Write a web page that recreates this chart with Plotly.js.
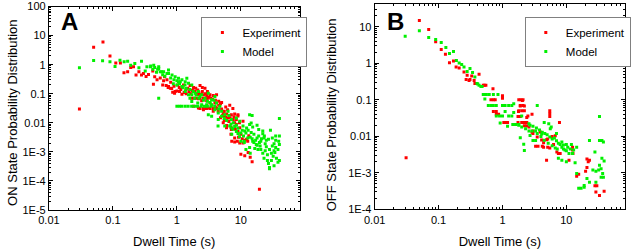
<!DOCTYPE html>
<html>
<head>
<meta charset="utf-8">
<script src="https://cdn.plot.ly/plotly-3.0.1.min.js"></script>
<style>html,body{margin:0;padding:0;background:#fff;}#chart{width:631px;height:249px;}</style>
</head>
<body>
<div id="chart"></div>
<script>
// ---- Data ----
const onExperiment = [[0.03,0.03],[0.05,4.0],[0.07,6.0],[0.09,2.0],[0.111,1.15],[0.131,1.15],[0.149,0.53],[0.17,0.57],[0.19,0.8],[0.21,0.84],[0.23,0.44],[0.255,0.57],[0.28,0.44],[0.3,0.5],[0.33,0.39],[0.36,0.46],[0.42,0.6],[0.43,0.21],[0.45,0.38],[0.49,0.3],[0.6,0.2],[0.64,0.38],[0.68,0.19],[0.7,0.3],[0.73,0.163],[0.74,0.176],[0.79,0.154],[0.83,0.15],[0.86,0.113],[0.92,0.104],[0.94,0.12],[1.0,0.125],[1.03,0.2],[1.09,0.163],[1.2,0.096],[1.27,0.2],[1.38,0.135],[1.48,0.154],[1.61,0.19],[1.82,0.163],[1.97,0.154],[2.12,0.135],[2.3,0.19],[2.5,0.163],[2.75,0.154],[2.17,0.092],[2.39,0.096],[2.6,0.092],[2.92,0.087],[3.29,0.092],[3.7,0.087],[4.17,0.092],[1.7,0.07],[1.85,0.07],[2.0,0.07],[2.3,0.07],[2.6,0.07],[3.0,0.07],[3.4,0.07],[2.17,0.067],[2.44,0.057],[2.92,0.057],[3.29,0.048],[3.93,0.048],[1.82,0.037],[2.17,0.032],[2.3,0.031],[2.6,0.031],[2.9,0.031],[3.3,0.031],[3.7,0.031],[4.2,0.031],[2.6,0.028],[3.1,0.032],[3.7,0.025],[4.43,0.025],[4.5,0.04],[5.0,0.03],[5.5,0.025],[6.0,0.02],[6.7,0.04],[7.5,0.031],[8.0,0.02],[9.0,0.017],[4.8,0.015],[5.5,0.012],[6.5,0.011],[5.3,0.0218],[5.75,0.0155],[6.3,0.0147],[7.1,0.019],[7.6,0.0129],[8.0,0.01],[8.5,0.0087],[9.0,0.019],[9.6,0.0068],[10.8,0.0113],[5.3,0.01],[5.96,0.0068],[7.1,0.0059],[7.0,0.004],[8.0,0.003],[8.8,0.0023],[9.6,0.002],[10.8,0.002],[12.8,0.0023],[7.2,0.0023],[8.0,0.0022],[12.3,0.0027],[13.3,0.0036],[10.0,0.00083],[11.5,0.00073],[13.0,0.00095],[14.0,0.00065],[15.0,0.00046],[19.5,0.000052],
[0.55,0.35],[0.62,0.28],[0.8,0.25],[0.9,0.18],[1.1,0.12],[1.15,0.14],[1.3,0.11],[1.4,0.1],[1.55,0.12],[1.65,0.1],[1.75,0.13],[1.9,0.12],[2.0,0.1],[2.2,0.11],[2.5,0.12],[2.8,0.1],[3.0,0.12],[3.2,0.075],[3.6,0.065],[4.0,0.06],[4.5,0.055],[5.0,0.05],[3.5,0.04],[4.0,0.035],[4.8,0.045],[5.8,0.035],[6.2,0.028],[5.2,0.018],[6.8,0.015],[7.8,0.016],[8.5,0.013],[9.5,0.01],[6.0,0.008],[7.0,0.007],[8.2,0.006],[9.0,0.005],[10.0,0.004],[9.2,0.0032],[10.5,0.0028],[11.5,0.0025]];

const onModel = [[0.03,0.78],[0.05,1.38],[0.069,1.35],[0.09,1.25],[0.108,0.87],[0.129,1.42],[0.15,1.25],[0.17,1.3],[0.19,0.95],[0.22,1.1],[0.255,0.78],[0.28,1.3],[0.32,0.6],[0.34,0.84],[0.386,0.84],[0.39,0.9],[0.42,0.7],[0.435,0.96],[0.45,0.8],[0.48,0.55],[0.5,0.7],[0.52,0.74],[0.52,0.84],[0.55,0.57],[0.58,0.57],[0.62,0.57],[0.7,0.5],[0.74,0.65],[0.74,0.5],[0.84,0.44],[0.94,0.38],[1.06,0.34],[1.06,0.26],[1.13,0.26],[1.2,0.3],[1.34,0.2],[1.35,0.26],[1.43,0.34],[1.52,0.23],[1.71,0.2],[1.2,0.176],[1.35,0.119],[1.52,0.092],[1.71,0.092],[1.93,0.104],[2.17,0.119],[2.44,0.092],[2.75,0.07],[3.1,0.104],[3.49,0.062],[3.93,0.08],[1.6,0.07],[1.9,0.07],[2.2,0.07],[1.71,0.054],[2.12,0.048],[2.44,0.042],[2.92,0.042],[3.49,0.042],[4.17,0.048],[4.7,0.037],[1.0,0.037],[1.1,0.037],[1.2,0.037],[1.35,0.037],[1.5,0.037],[1.7,0.037],[1.9,0.037],[2.1,0.037],[2.4,0.037],[2.7,0.037],[3.0,0.037],[3.4,0.037],[3.9,0.037],[0.52,0.07],[3.93,0.028],[4.43,0.0218],[4.99,0.0168],[5.6,0.019],[6.3,0.025],[7.1,0.0129],[7.6,0.01],[8.5,0.0147],[9.6,0.0113],[10.8,0.0077],[11.5,0.0052],[6.7,0.0077],[5.6,0.0077],[4.43,0.0129],[3.49,0.0168],[3.1,0.019],[4.4,0.0077],[7.2,0.004],[7.2,0.0066],[8.5,0.0083],[9.0,0.0043],[9.5,0.0033],[10.0,0.0023],[12.3,0.0066],[13.7,0.0087],[13.7,0.019],[15.0,0.018],[14.5,0.0099],[15.3,0.0071],[17.9,0.0083],[19.0,0.0059],[22.0,0.0052],[23.3,0.0035],[27.0,0.0027],[31.0,0.003],[40.0,0.0035],[39.0,0.0023],[35.0,0.0014],[34.0,0.00095],[30.0,0.0005],[26.0,0.0005],[28.0,0.00026],[38.0,0.00044],[14.5,0.0046],[12.8,0.003],[11.3,0.0023],[15.3,0.0023],[17.9,0.003],[19.5,0.0021],[17.4,0.0018],[20.5,0.0012],[24.0,0.0011],[33.0,0.0019],[29.0,0.0055],[40.0,0.014],[35.0,0.0035],[11.3,0.0021],[16.0,0.0021],[23.0,0.003],[13.7,0.0014],[18.5,0.0012],[33.0,0.0011],[40.0,0.0005],[28.0,0.00029],[33.0,0.00033],[20.5,0.0023],
[0.6,0.45],[0.65,0.4],[0.8,0.35],[0.9,0.3],[1.0,0.28],[0.88,0.22],[1.0,0.2],[1.1,0.22],[1.25,0.16],[1.4,0.15],[1.6,0.14],[1.8,0.12],[2.0,0.09],[2.3,0.08],[2.6,0.06],[3.0,0.055],[3.3,0.05],[3.8,0.06],[4.5,0.03],[5.0,0.025],[5.5,0.014],[6.0,0.012],[6.5,0.018],[7.0,0.009],[7.5,0.006],[8.0,0.0075],[8.5,0.005],[9.0,0.0065],[10.0,0.0045],[10.5,0.0055],[11.0,0.0035],[12.0,0.0045],[13.0,0.0055],[14.0,0.0032],[15.0,0.0028],[16.0,0.004],[17.0,0.0025],[18.0,0.0017],[20.0,0.0016],[21.0,0.0028],[22.0,0.0009],[24.0,0.0019],[25.0,0.0015],[26.0,0.0008],[28.0,0.0012],[30.0,0.0009],[31.0,0.0016],[32.0,0.0007],[35.0,0.0025],[36.0,0.0006],[38.0,0.0012],[40.0,0.0018],[22.0,0.0042],[25.0,0.0025],[19.0,0.0035],[16.5,0.0013],[12.0,0.0012],[14.0,0.0009],[23.0,0.0006],[27.0,0.0004]];

const offExperiment = [[0.031,0.0026],[0.05,15],[0.07,8.5],[0.09,3.9],[0.11,2.4],[0.128,1.77],[0.148,1.04],[0.171,1.15],[0.188,0.79],[0.21,0.74],[0.25,0.58],[0.27,0.36],[0.28,0.47],[0.31,0.36],[0.33,0.45],[0.36,0.34],[0.43,0.5],[0.52,0.25],[0.3,0.34],[0.37,0.28],[0.5,0.25],[0.55,0.25],[0.71,0.2],[0.66,0.1],[0.72,0.1],[0.77,0.1],[1.0,0.13],[1.0,0.11],[1.8,0.1],[1.95,0.1],[2.1,0.1],[1.9,0.068],[2.2,0.068],[0.72,0.048],[0.8,0.048],[0.8,0.04],[0.87,0.04],[1.78,0.048],[1.85,0.035],[2.4,0.033],[2.9,0.04],[1.05,0.024],[1.12,0.024],[1.2,0.024],[2.1,0.024],[2.25,0.024],[2.4,0.024],[2.2,0.0195],[2.4,0.0195],[3.0,0.014],[3.5,0.0095],[4.1,0.0079],[3.3,0.0053],[3.6,0.0053],[4.4,0.0067],[2.05,0.095],[1.9,0.07],[2.1,0.07],[1.8,0.05],[2.0,0.05],[2.2,0.05],[1.75,0.035],[1.9,0.035],[2.5,0.036],[1.75,0.024],[2.0,0.024],[5.5,0.05],[5.5,0.042],[5.5,0.035],[7.8,0.024],[2.6,0.018],[2.9,0.013],[3.0,0.012],[3.9,0.0132],[4.9,0.008],[5.1,0.0085],[6.0,0.0098],[6.7,0.0104],[4.2,0.0053],[4.4,0.005],[5.1,0.005],[5.5,0.0048],[6.3,0.006],[7.1,0.0037],[7.5,0.0034],[8.0,0.0034],[12.5,0.005],[12.5,0.0042],[12.7,0.0034],[11,0.0022],[4.9,0.0022],[21,0.0024],[22,0.002],[23,0.0022],[21,0.0014],[20,0.0011],[15.6,0.00091],[14.5,0.0008],[28,0.00044],[30,0.00044],[39,0.00031],[33,0.00024],[29,0.0003]];

const offModel = [[0.03,5.5],[0.05,7.8],[0.07,5.1],[0.09,4.5],[0.11,3.7],[0.13,2.7],[0.148,1.85],[0.171,2.1],[0.19,1.2],[0.21,1.02],[0.23,0.93],[0.25,0.79],[0.28,0.6],[0.31,0.72],[0.34,0.56],[0.37,0.42],[0.4,0.28],[0.43,0.25],[0.48,0.23],[0.52,0.14],[0.53,0.105],[0.41,0.27],[0.46,0.23],[0.5,0.14],[0.56,0.14],[0.62,0.14],[0.72,0.14],[0.85,0.14],[0.6,0.07],[0.66,0.07],[0.72,0.07],[0.8,0.07],[1.0,0.07],[1.1,0.07],[1.25,0.07],[1.4,0.07],[1.5,0.078],[3.5,0.07],[0.8,0.036],[0.9,0.036],[1.0,0.036],[1.25,0.036],[1.4,0.036],[1.5,0.045],[2.0,0.036],[1.1,0.048],[0.92,0.023],[1.2,0.019],[1.45,0.021],[1.6,0.021],[1.8,0.021],[2.7,0.02],[2.6,0.014],[2.9,0.014],[3.3,0.014],[2.7,0.0105],[3.0,0.0077],[3.3,0.0077],[4.0,0.0099],[1.9,0.0091],[2.15,0.0061],[2.2,0.0041],[4.1,0.0115],[4.5,0.024],[33,0.035],[5.3,0.022],[5.8,0.018],[5.6,0.016],[23,0.0077],[33,0.0077],[36,0.0077],[38,0.007],[28,0.0037],[14.5,0.005],[8.5,0.005],[9.5,0.0042],[11,0.0034],[12.5,0.0034],[13,0.0042],[7.5,0.0025],[8.5,0.0022],[10,0.002],[13.7,0.0019],[14.5,0.00095],[15.6,0.00038],[19,0.0004],[19,0.00045],[26,0.0012],[29,0.0011],[32,0.0012],[35,0.0013],[37,0.00095],[23,0.00055],[21,0.0007],[35,0.00075],[38,0.00075],[33,0.0016],[29,0.00055],[39,0.0021],[36,0.0025],[17,0.00038],[1.8,0.02],[2.0,0.018],[2.3,0.016],[2.6,0.022],[3.0,0.019],[3.4,0.017],[3.8,0.015],[4.2,0.013],[4.6,0.012],[5.0,0.011],[5.5,0.0095],[6,0.0085],[6.5,0.009],[7,0.0075],[7.5,0.0065],[8,0.006],[8.5,0.007],[9,0.0058],[10,0.006],[10.5,0.005],[3.5,0.012],[4.5,0.0078],[5.2,0.0065],[6,0.0055],[6.7,0.0048],[7.2,0.0045],[9,0.0045],[10,0.004],[11.5,0.0045],[12,0.006],[7,0.012]];

const xTickVals = [0.01, 0.1, 1, 10];
const xTickText = ['0.01', '0.1', '1', '10'];
const onYTickVals = [1e-5, 1e-4, 1e-3, 0.01, 0.1, 1, 10, 100];
const onYTickText = ['1E-5', '1E-4', '1E-3', '0.01', '0.1', '1', '10', '100'];
const offYTickVals = [1e-4, 1e-3, 0.01, 0.1, 1, 10];
const offYTickText = ['1E-4', '1E-3', '0.01', '0.1', '1', '10'];
const seriesNames = ['Experiment', 'Model'];
const panelLabels = ['A', 'B'];
const yTitles = ['ON State Probability Distribution', 'OFF State Probability Distribution'];
const xTitle = 'Dwell Time (s)';

// ---- Build ----
const RED = '#ff0000', GREEN = '#00f000';
const FONT = 'Liberation Sans, Arial, sans-serif';
function xs(a){return a.map(p=>p[0]);}
function ys(a){return a.map(p=>p[1]);}
function minorVals(lo, hi){const v=[];for(let e=lo;e<hi;e++){for(let k=2;k<=9;k++)v.push(k*Math.pow(10,e));}return v;}

function mk(arr, color, name, xa, ya, leg){
  return {type:'scatter', mode:'markers', x:xs(arr), y:ys(arr), name:name, xaxis:xa, yaxis:ya, legend:leg,
    marker:{symbol:'square', size:3, color:color, line:{width:0}}};
}
const traces = [
  mk(onExperiment, RED, seriesNames[0], 'x', 'y', 'legend'),
  mk(onModel, GREEN, seriesNames[1], 'x', 'y', 'legend'),
  mk(offExperiment, RED, seriesNames[0], 'x2', 'y2', 'legend2'),
  mk(offModel, GREEN, seriesNames[1], 'x2', 'y2', 'legend2')
];

function axBase(){
  return {type:'log', showgrid:false, zeroline:false, showline:true, linecolor:'#000', linewidth:1,
    mirror:'allticks', ticks:'inside', ticklen:4, tickcolor:'#000', tickwidth:1, ticklabeloverflow:'allow',
    tickfont:{family:FONT, size:11, color:'#000'}, tickmode:'array'};
}
function xax(domain, anchor){
  return Object.assign(axBase(), {domain:domain, anchor:anchor, range:[-2, 1.918],
    tickvals:xTickVals, ticktext:xTickText,
    minor:{tickmode:'array', tickvals:minorVals(-2,2), ticks:'inside', ticklen:2, tickcolor:'#000', showgrid:false},
    title:{text:xTitle, font:{family:FONT, size:13, color:'#000'}}});
}
function yax(domain, anchor, range, tv, tt, lo, hi){
  return Object.assign(axBase(), {domain:domain, anchor:anchor, range:range, tickvals:tv, ticktext:tt,
    minor:{tickmode:'array', tickvals:minorVals(lo,hi), ticks:'inside', ticklen:2, tickcolor:'#000', showgrid:false}});
}

const W = 631, H = 249;
const legendStyle = {xanchor:'left', yanchor:'top', bgcolor:'#fff', bordercolor:'#808080', borderwidth:1,
  font:{family:FONT, size:11.5, color:'#000'}};
function pxX(p){return p/W;}
function pxY(p){return (H-p)/H;}

const layout = {
  width:W, height:H, margin:{l:0, r:0, t:0, b:0}, paper_bgcolor:'#fff', plot_bgcolor:'#fff',
  font:{family:FONT, color:'#000'},
  showlegend:true,
  xaxis: xax([pxX(49.3), pxX(302)], 'y'),
  yaxis: yax([pxY(210), pxY(6.5)], 'x', [-5, 2.0008], onYTickVals, onYTickText, -5, 2),
  xaxis2: xax([pxX(377.7), pxX(630)], 'y2'),
  yaxis2: yax([pxY(209.3), pxY(4)], 'x2', [-4, 1.625], offYTickVals, offYTickText, -4, 2),
  legend: Object.assign({x:pxX(203), y:pxY(17)}, legendStyle),
  legend2: Object.assign({x:pxX(529), y:pxY(17)}, legendStyle),
  annotations:[
    {text:'<b>'+panelLabels[0]+'</b>', xref:'paper', yref:'paper', x:pxX(59), y:pxY(21.5), xanchor:'left', yanchor:'middle', showarrow:false, font:{family:FONT, size:24, color:'#000'}},
    {text:'<b>'+panelLabels[1]+'</b>', xref:'paper', yref:'paper', x:pxX(388), y:pxY(21.5), xanchor:'left', yanchor:'middle', showarrow:false, font:{family:FONT, size:24, color:'#000'}},
    {text:yTitles[0], xref:'paper', yref:'paper', x:pxX(12), y:pxY(113), xanchor:'center', yanchor:'middle', textangle:-90, showarrow:false, font:{family:FONT, size:13, color:'#000'}},
    {text:yTitles[1], xref:'paper', yref:'paper', x:pxX(335), y:pxY(115), xanchor:'center', yanchor:'middle', textangle:-90, showarrow:false, font:{family:FONT, size:13, color:'#000'}}
  ]
};

Plotly.newPlot('chart', traces, layout, {displayModeBar:false, staticPlot:true});
</script>
</body>
</html>
